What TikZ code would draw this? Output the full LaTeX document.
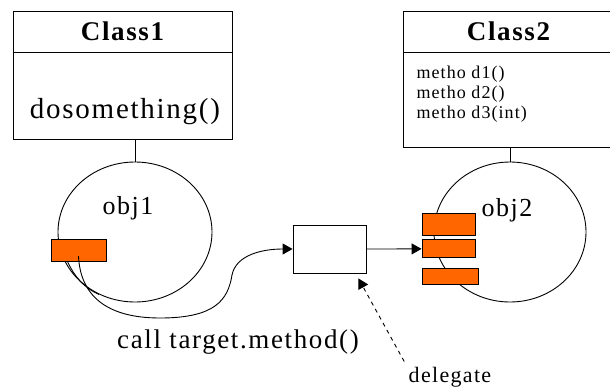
\documentclass[tikz,border=0pt]{standalone}
\usepackage{fontspec}
\setmainfont[LetterSpace=6]{Liberation Serif}
\usetikzlibrary{positioning, arrows.meta, shapes.geometric}
\definecolor{methodorange}{RGB}{255,102,0}
\tikzstyle{classtitle} = [rectangle, draw=black, line width=0.9pt, minimum width=219pt, minimum height=41pt, inner sep=0pt, font=\fontsize{27}{30}\selectfont\bfseries]
\tikzstyle{classbody} = [rectangle, draw=black, line width=0.9pt, minimum width=219pt, inner sep=0pt]
\tikzstyle{object} = [ellipse, draw=black, line width=0.9pt, minimum width=154pt, minimum height=140pt, inner sep=0pt]
\tikzstyle{method} = [rectangle, draw=black, line width=0.9pt, fill=methodorange, inner sep=0pt]
\tikzstyle{arrow} = [line width=0.9pt, -{Triangle[length=10pt,width=11pt]}]
\tikzstyle{link} = [line width=0.9pt]

\begin{document}
\begin{tikzpicture}[x=1pt, y=-1pt]
        \useasboundingbox (0,0) rectangle (610,391);
        % classes
        \node (class1) [classtitle] at (122.5,31.5) {Class1};
        \node (class1body) [classbody, minimum height=87pt, below=0pt of class1] {};
        \node (class1text) [font=\fontsize{29}{32}\selectfont] at (125,112) {dosomething()};
        \node (class2) [classtitle, minimum width=211pt] at (508.5,31.5) {Class2};
        \node (class2body) [classbody, minimum width=211pt, minimum height=95pt, below=0pt of class2] {};
        \node (methods) [anchor=north west, align=left, font=\fontsize{18}{20}\selectfont] at (413,62) {metho d1()\\metho d2()\\metho d3(int)};

        % objects
        \node (obj1) [object] at (135,232) {};
        \node (obj1label) [font=\fontsize{26}{28}\selectfont] at (128,208) {obj1};
        \node (obj2) [object, minimum width=152pt] at (510,232) {};
        \node (obj2label) [font=\fontsize{26}{28}\selectfont] at (507,210) {obj2};
        \draw [link] (obj1.north |- class1body.south) -- (obj1.north);
        \draw [link] (obj2.north |- class2body.south) -- (obj2.north);

        % methods of the objects
        \node (m1) [method, minimum width=55pt, minimum height=22pt] at (78.5,250) {};
        \node (m2a) [method, minimum width=53pt, minimum height=22pt] at (448.5,224) {};
        \node (m2b) [method, minimum width=53pt, minimum height=18pt, below=4pt of m2a] {};
        \node (m2c) [method, minimum width=56pt, minimum height=16pt, below=10pt of m2b, xshift=1.5pt] {};

        \node (proxy) [rectangle, draw=black, line width=0.9pt, minimum width=73pt, minimum height=48pt] at (329.5,249) {};
        \node (calllabel) [font=\fontsize{27}{30}\selectfont] at (238,342) {call target.method()};
        \node (delegate) [font=\fontsize{22}{24}\selectfont] at (450,377) {delegate};

        \draw [link] ([xshift=-11pt]m1.south) .. controls (74,276) and (84,288) .. (obj1.240);
        \draw [arrow] ([yshift=-6pt]m1.center) .. controls (80,290) and (100,318) .. (160,318) .. controls (215,318) and (228,300) .. (232,275) .. controls (236,255) and (262,249) .. (proxy.west);
        \draw [arrow] (proxy.east) -- (m2b.west);
        \draw [arrow, dash pattern=on 4pt off 4pt] ([xshift=-1pt, yshift=2pt]delegate.north west) -- ([xshift=-8pt, yshift=-5pt]proxy.south east);

        \end{tikzpicture}
\end{document}
